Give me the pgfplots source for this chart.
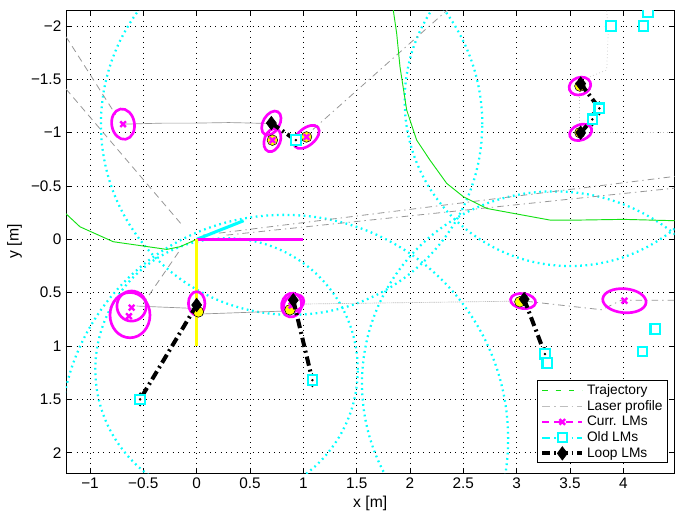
\documentclass[border=0pt]{standalone}
\usepackage{pgfplots}
\pgfplotsset{compat=1.18}
\usepackage{fontspec}
\setmainfont{Liberation Sans}
\definecolor{cy}{RGB}{0,255,255}
\definecolor{mg}{RGB}{255,0,255}
\definecolor{ye}{RGB}{255,255,0}
\definecolor{gr}{RGB}{20,225,20}
\definecolor{gy}{RGB}{150,150,150}
\definecolor{lgy}{RGB}{190,190,190}

\def\myEA{5}\def\myEB{5}\def\myEANG{0}\def\myCR{10}
\pgfdeclareplotmark{ell}{%
  \pgfmathsetmacro{\myEBANG}{\myEANG+90}%
  \pgfpathellipse{\pgfpointorigin}{\pgfpointpolar{\myEANG}{\myEA pt}}{\pgfpointpolar{\myEBANG}{\myEB pt}}%
  \pgfusepathqstroke}
\pgfdeclareplotmark{bigcirc}{%
  \pgfsetdash{{1.3pt}{2.7pt}}{0pt}%
  \pgfpathcircle{\pgfpointorigin}{\myCR pt}%
  \pgfusepathqstroke}
\pgfplotsset{
  ellp/.style n args={3}{forget plot, only marks, mg, line width=2pt, mark=ell,
     /utils/exec={\def\myEA{#1}\def\myEB{#2}\def\myEANG{#3}}},
  cyc/.style={forget plot, only marks, cy, line width=1.7pt, mark=bigcirc,
     /utils/exec={\def\myCR{#1}}},
}

\begin{document}
\begin{tikzpicture}
\useasboundingbox (-49.5pt,-27.75pt) rectangle (463.5pt,354.75pt);
\begin{axis}[
  at={(0,0)}, anchor=south west,
  scale only axis, width=456.4pt, height=347.25pt,
  xmin=-1.225, xmax=4.48, ymin=-2.15, ymax=2.19,
  y dir=reverse,
  xtick={-1,-0.5,0,0.5,1,1.5,2,2.5,3,3.5,4},
  xticklabels={−1,−0.5,0,0.5,1,1.5,2,2.5,3,3.5,4},
  ytick={-2,-1.5,-1,-0.5,0,0.5,1,1.5,2},
  yticklabels={−2,−1.5,−1,−0.5,0,0.5,1,1.5,2},
  tick label style={font=\fontsize{11.5}{13}\selectfont},
  label style={font=\fontsize{11.8}{13}\selectfont},
  xlabel={x [m]}, ylabel={y [m]},
  xlabel style={yshift=1pt},
  grid=major,
  major grid style={black, line width=0.4pt, dash pattern=on 0.4pt off 3.6pt},
  axis line style={black, line width=0.6pt},
  major tick length=3.8pt,
  tick style={black, line width=0.5pt},
  clip marker paths=true,
  legend style={at={(axis description cs:0.990,0.0216)}, anchor=south east,
    font=\fontsize{10.3}{11}\selectfont, draw=black, line width=0.8pt,
    inner xsep=2pt, inner ysep=0.5pt, row sep=-1pt},
  legend cell align=left,
  legend image code/.code={%
    \draw[mark repeat=2,mark phase=2,#1] plot coordinates {(0pt,0pt) (15pt,0pt) (30pt,0pt)};},
]
% legend entries
\addlegendimage{gr, line width=0.8pt, dash pattern=on 4pt off 6pt}
\addlegendentry{Trajectory}
\addlegendimage{lgy, line width=0.8pt, dash pattern=on 6pt off 3pt on 1pt off 3pt}
\addlegendentry{Laser profile}
\addlegendimage{mg, line width=1.6pt, dash pattern=on 5pt off 4pt, mark=x, mark size=3pt, mark options={solid, line width=1.8pt}}
\addlegendentry{Curr. LMs}
\addlegendimage{cy, line width=1.6pt, dash pattern=on 6pt off 3pt on 1pt off 3pt, mark=square*, mark size=3.5pt, mark options={solid, fill=white, line width=1.5pt}}
\addlegendentry{Old LMs}
\addlegendimage{black, line width=3pt, dash pattern=on 6pt off 3pt on 1pt off 3pt, mark=diamond*, mark size=5pt, mark options={solid, fill=black, line width=0.5pt}}
\addlegendentry{Loop LMs}

% cyan dotted search circles (radius in pt, 80pt = 1 m)
\addplot[cyc=143] coordinates {(0.89,-1.08)};
\addplot[cyc=124] coordinates {(3.5,-1.3)};
\addplot[cyc=98.4] coordinates {(0.28,1.22)};
\addplot[cyc=260] coordinates {(-0.98,3.13)};
\addplot[cyc=168] coordinates {(0.82,1.87)};
\addplot[cyc=144] coordinates {(3.35,1.35)};

% gray laser rays (dashed)
\addplot[forget plot, gy, line width=0.6pt, dash pattern=on 5pt off 3.5pt] coordinates {(-1.225,-1.41) (-0.15,-0.15)};
\addplot[forget plot, gy, line width=0.6pt, dash pattern=on 5pt off 3.5pt] coordinates {(-1.225,-1.9) (-0.76,-1.17)};
\addplot[forget plot, gy, line width=0.6pt, dash pattern=on 5pt off 3.5pt] coordinates {(-0.17,0.12) (-0.5,0.6)};
\addplot[forget plot, gy, line width=0.6pt, dash pattern=on 5pt off 3pt on 1pt off 3pt] coordinates {(1.09,-1.03) (2.35,-2.15)};
\addplot[forget plot, gy, line width=0.6pt, dash pattern=on 5pt off 3pt on 1pt off 3pt] coordinates {(0.06,-0.04) (4.48,-0.59)};
\addplot[forget plot, gy, line width=0.6pt, dash pattern=on 5pt off 3pt on 1pt off 3pt] coordinates {(0.28,-0.04) (4.48,-0.48)};
\addplot[forget plot, gy, line width=0.6pt, dash pattern=on 5pt off 3pt on 1pt off 3pt] coordinates {(3.09,0.58) (3.8,0.66) (3.98,0.57) (4.48,0.57)};

% gray laser profile (walls)
\addplot[forget plot, gy, line width=0.5pt] coordinates {(-0.69,-1.08) (-0.3,-1.09) (0.0,-1.09) (0.3,-1.095) (0.656,-1.087)};
\addplot[forget plot, gy, line width=0.5pt] coordinates {(-0.5625,0.625) (-0.03,0.647)};
\addplot[forget plot, gy, line width=0.5pt] coordinates {(0.03,0.70) (0.875,0.67)};
\addplot[forget plot, lgy, line width=0.5pt, dash pattern=on 1pt off 0.6pt] coordinates {(1.0,0.606) (3.09,0.578)};
\addplot[forget plot, lgy, line width=0.5pt, dotted] coordinates {(3.59,-1.43) (3.59,-1.055)};
\addplot[forget plot, lgy, line width=0.5pt, dotted] coordinates {(3.687,-1.525) (3.844,-1.587) (3.859,-1.962) (3.844,-2.15)};
\addplot[forget plot, lgy, line width=0.5pt, dotted] coordinates {(3.72,-1.0) (4.48,-1.0)};

% green trajectories
\addplot[forget plot, gr, line width=0.7pt] coordinates {(-1.225,-0.24) (-1.094,-0.118) (-0.782,0.022) (-0.281,0.094) (-0.156,0.069) (0,0)};
\addplot[forget plot, gr, line width=0.7pt] coordinates {(1.843,-2.15) (1.875,-1.931) (1.906,-1.618) (1.969,-1.212) (2.062,-0.931) (2.187,-0.743) (2.344,-0.525) (2.5,-0.4) (2.719,-0.29) (2.968,-0.244) (3.312,-0.181) (3.593,-0.181) (4.0,-0.1875) (4.48,-0.175)};

% robot pose
\addplot[forget plot, cy, line width=2.3pt] coordinates {(0,0) (0.44,-0.175)};
\addplot[forget plot, mg, line width=2.3pt] coordinates {(0,0) (1,0)};
\addplot[forget plot, ye, line width=2.3pt] coordinates {(0,0) (0,1)};

% magenta covariance ellipses: semi-axes (pt), canvas angle
\addplot[ellp={11.5}{8.5}{100}] coordinates {(-0.69,-1.08)};
\addplot[ellp={9.8}{6.2}{60}] coordinates {(0.70,-1.09)};
\addplot[ellp={9.0}{6.0}{70}] coordinates {(0.71,-0.93)};
\addplot[ellp={11.2}{6.4}{40}] coordinates {(1.03,-0.96)};
\addplot[ellp={17.0}{15.0}{90}] coordinates {(-0.625,0.71)};
\addplot[ellp={11.3}{11.0}{90}] coordinates {(-0.61,0.625)};
\addplot[ellp={8.8}{6.2}{90}] coordinates {(0.0,0.60)};
\addplot[ellp={9.0}{7.5}{80}] coordinates {(0.89,0.616)};
\addplot[ellp={8.0}{6.0}{30}] coordinates {(0.91,0.60)};
\addplot[ellp={9.5}{5.6}{-8}] coordinates {(3.06,0.578)};
\addplot[ellp={16.3}{9.0}{-5}] coordinates {(4.01,0.575)};
\addplot[ellp={8.3}{6.5}{20}] coordinates {(3.593,-1.437)};
\addplot[ellp={8.6}{5.8}{20}] coordinates {(3.60,-1.003)};

% yellow dots
\addplot[forget plot, only marks, mark=*, mark size=4pt, mark options={draw=none, fill=ye}] coordinates {
(0.71,-0.93) (1.03,-0.96) (0.016,0.68) (0.875,0.66) (3.03,0.585) (3.593,-1.437) (3.593,-1.0)};

% magenta crosses
\addplot[forget plot, only marks, mark=x, mark size=3pt, mark options={mg, line width=1.8pt}] coordinates {
(-0.69,-1.08) (0.71,-0.93) (1.03,-0.96) (-0.61,0.64) (-0.635,0.72) (4.01,0.575) (0.89,0.62)};

% loop closures
\pgfplotsset{looplm/.style={forget plot, black, line width=3pt, dash pattern=on 7pt off 3pt on 1.5pt off 3pt, mark=diamond*, mark size=5pt, mark options={solid, fill=black, line width=0.5pt}}}
\addplot[looplm] coordinates {(0.70,-1.09) (0.93,-0.93)};
\addplot[looplm] coordinates {(0,0.615) (-0.53,1.5)};
\addplot[looplm] coordinates {(0.906,0.57) (1.085,1.32)};
\addplot[looplm] coordinates {(3.07,0.56) (3.265,1.075)};
\addplot[looplm] coordinates {(3.6,-1.46) (3.775,-1.228)};
\addplot[looplm] coordinates {(3.6,-1.0) (3.71,-1.125)};

% old landmarks
\addplot[forget plot, only marks, mark=square*, mark size=3.6pt, mark options={draw=cy, fill=white, line width=1.6pt}] coordinates {
(0.93,-0.93) (3.775,-1.228) (3.71,-1.125) (3.884,-2.0) (4.19,-2.0) (4.23,-2.13)
(-0.53,1.5) (1.085,1.32) (3.265,1.075) (3.287,1.157) (4.30,0.84) (4.18,1.05)};
\addplot[forget plot, only marks, mark=*, mark size=0.7pt, black] coordinates {
(0.93,-0.93) (3.775,-1.228) (3.71,-1.125) (-0.53,1.5) (1.085,1.32) (3.265,1.075)};
\end{axis}
\end{tikzpicture}
\end{document}
